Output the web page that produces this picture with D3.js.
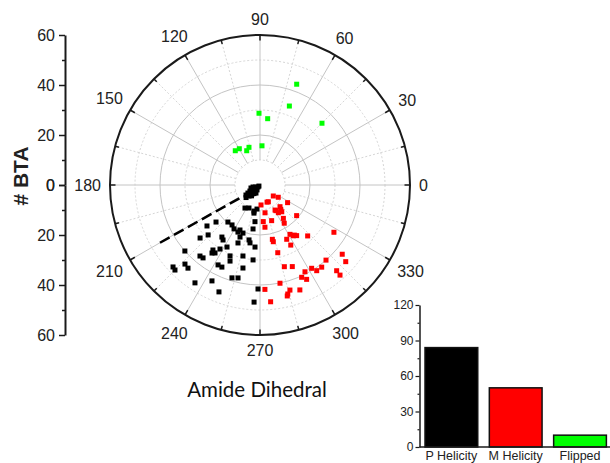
<!DOCTYPE html>
<html>
<head>
<meta charset="utf-8">
<script src="https://cdn.jsdelivr.net/npm/d3@7"></script>
<style>
  body { margin: 0; background: #fff; }
  svg { display: block; }
  text { font-family: "Liberation Sans", Arial, sans-serif; fill: #222; }
</style>
</head>
<body>
<svg id="chart" width="610" height="463"></svg>
<script>
// Each point: [amide dihedral (deg), # BTA]
const pHelicity = [
  [225,1.1],[216.9,2.0],[213.7,2.9],[212,3.8],[211,4.7],[213.7,5.8],[215.5,6.9],[230.2,3.1],
  [228.4,4.8],[239,2.3],[225,0.6],[196,2.9],[225,6.2],[243.4,3.6],[198.4,3.8],
  [220,5.0],[218,3.5],[222,7.5],[232,5.5],[205,2.0],[227,2.5],[235,4.2],[219,6.0],
  [236.9,11.0],[244.4,10.2],[257,10.7],[262.9,9.7],
  [220.1,23.0],[217.7,26.8],[229.1,19.6],[235,19.5],[239.4,20.4],[246,19.7],[250.5,20.4],[261,17.8],
  [223.9,28.8],[221.5,32.0],[233.8,25.8],[236.1,26.5],[249,22.3],[258.7,22.4],[249.2,24.8],[260.2,23.5],
  [242,28.1],[265.4,24.9],[221.3,40.0],[234.1,32.1],[238,30.2],[234.8,33.3],[229.8,37.2],[232,37.0],
  [247.1,30.8],[248.5,32.7],[256.5,29.2],[264.7,30.1],
  [226.5,43.6],[229.1,44.0],[223.3,47.8],[225,48.1],[242.3,36.1],[245.1,36.2],[258.4,33.9],
  [253.2,38.8],[256.7,38.2],[243.4,42.9],[236.4,47.0],[249,45.8],[268.9,41.6],[267.1,46.9],
  [236.5,32.6],[244.9,20.8],[262.2,14.8],[257.9,11.5]
];
const mHelicity = [
  [320.4,6.9],[326.1,8.8],[296.4,7.5],[272.9,8.0],[327.4,13.1],[312.7,11.8],[301,11.7],[303.5,13.3],
  [309.1,13.8],[280.2,11.3],[288.1,15.0],[305,16.3],[320.1,19.1],[275.1,14.7],[276.7,17.0],[302.4,18.1],
  [301.3,23.1],[304.4,24.3],[305.9,25.0],[313.1,27.9],[327.4,35.1],[282.8,22.3],[296.2,24.2],[283.2,23.3],
  [297.1,27.0],[284.7,28.0],[319.9,43.0],[318.2,46.0],[311.3,40.0],[286.6,34.1],[291.6,35.1],[301.8,39.2],
  [303.5,41.1],[306.9,41.1],[297.4,39.1],[311.8,46.0],[311.6,48.2],[294.3,40.5],[296.3,42.1],[281.5,40.1],
  [272.7,41.8],[285.9,43.7],[284.3,45.0],[290.8,44.9],[275.2,46.9],
  [301.9,12.1],[310.4,12.8],[303.3,24.3],[283.8,45.7],[292.4,7.4]
];
const flipped = [
  [70.0,42.9],[69.6,33.7],[90.8,28.7],[83.4,26.7],[44.9,35.0],
  [87.1,15.7],[106.3,15.7],[111.2,14.7],[119.7,16.7],[125.8,16.9]
];
// Dashed guide: two [angle, # BTA] end points
const guideLine = [[210.0,46.2],[213.3,8.8]];

const groupNames = ["P Helicity", "M Helicity", "Flipped"];
const groupCounts = [84, 50, 10];
const groupColors = ["#000000", "#ff0000", "#00ff00"];

const angleLabels = [0,30,60,90,120,150,180,210,240,270,300,330];
const radialTicks = [0,20,40,60];
const radialMinor = [10,30,50];
const countTicks = [0,30,60,90,120];
const countMinor = [15,45,75,105];

const svg = d3.select("#chart");

// ---------- polar plot ----------
const cx = 260, cy = 185, R = 150;
const rScale = d3.scaleLinear().domain([0, 60]).range([0, R]);
const aScale = d3.scaleLinear().domain([0, 360]).range([0, 2 * Math.PI]);
const px = (a, r) => cx + rScale(r) * Math.cos(aScale(a));
const py = (a, r) => cy - rScale(r) * Math.sin(aScale(a));

const polar = svg.append("g");

// grid circles
d3.range(10, 60, 10).forEach(v => {
  const major = v % 20 === 0;
  polar.append("circle")
    .attr("cx", cx).attr("cy", cy).attr("r", rScale(v))
    .attr("fill", "none")
    .attr("stroke", major ? "#c4c4c4" : "#d6d6d6")
    .attr("stroke-width", 1)
    .attr("stroke-dasharray", major ? null : "2,2");
});
// radial grid lines
d3.range(0, 360, 15).forEach(a => {
  const major = a % 30 === 0;
  polar.append("line")
    .attr("x1", px(a, 10)).attr("y1", py(a, 10))
    .attr("x2", px(a, 60)).attr("y2", py(a, 60))
    .attr("stroke", major ? "#c4c4c4" : "#d6d6d6")
    .attr("stroke-width", 1)
    .attr("stroke-dasharray", major ? null : "2,2");
});
// outer ring and inward ticks
polar.append("circle")
  .attr("cx", cx).attr("cy", cy).attr("r", R)
  .attr("fill", "none").attr("stroke", "#1a1a1a").attr("stroke-width", 2);
d3.range(0, 360, 15).forEach(a => {
  const inner = a % 30 === 0 ? 57.8 : 58.4;
  polar.append("line")
    .attr("x1", px(a, 60)).attr("y1", py(a, 60))
    .attr("x2", px(a, inner)).attr("y2", py(a, inner))
    .attr("stroke", "#1a1a1a").attr("stroke-width", 1.5);
});
// angle labels
angleLabels.forEach(a => {
  const t = polar.append("text").text(a)
    .attr("font-size", 16)
    .attr("text-anchor", "middle")
    .attr("dominant-baseline", "central");
  const bb = t.node().getBBox();
  const th = aScale(a);
  const ext = Math.abs(Math.cos(th)) * bb.width / 2 + Math.abs(Math.sin(th)) * bb.height * 0.38;
  const d = R + 9 + ext;
  t.attr("x", cx + d * Math.cos(th)).attr("y", cy - d * Math.sin(th));
});

// dashed guide line
polar.append("line")
  .attr("x1", px(guideLine[0][0], guideLine[0][1])).attr("y1", py(guideLine[0][0], guideLine[0][1]))
  .attr("x2", px(guideLine[1][0], guideLine[1][1])).attr("y2", py(guideLine[1][0], guideLine[1][1]))
  .attr("stroke", "#000").attr("stroke-width", 2.5).attr("stroke-dasharray", "11,5");

// data points
const sq = 5;
[[pHelicity, groupColors[0]], [mHelicity, groupColors[1]], [flipped, groupColors[2]]].forEach(([data, col]) => {
  polar.append("g").selectAll("rect").data(data).join("rect")
    .attr("x", d => px(d[0], d[1]) - sq / 2)
    .attr("y", d => py(d[0], d[1]) - sq / 2)
    .attr("width", sq).attr("height", sq)
    .attr("fill", col);
});

// left radial axis (mirrored above and below the centre)
const axX = 65;
const upScale = d3.scaleLinear().domain([0, 60]).range([cy, cy - R]);
const downScale = d3.scaleLinear().domain([0, 60]).range([cy, cy + R]);
[upScale, downScale].forEach(s => {
  const gMaj = svg.append("g").attr("transform", `translate(${axX},0)`)
    .call(d3.axisLeft(s).tickValues(radialTicks).tickSize(6).tickPadding(4).tickSizeOuter(0));
  gMaj.select(".domain").attr("stroke", "#1a1a1a").attr("stroke-width", 2);
  gMaj.selectAll(".tick line").attr("stroke", "#1a1a1a").attr("stroke-width", 1.5);
  gMaj.selectAll(".tick text").attr("font-size", 16).attr("font-family", "Liberation Sans, Arial, sans-serif").attr("fill", "#222");
  const gMin = svg.append("g").attr("transform", `translate(${axX},0)`)
    .call(d3.axisLeft(s).tickValues(radialMinor).tickSize(3).tickFormat(""));
  gMin.select(".domain").remove();
  gMin.selectAll(".tick line").attr("stroke", "#1a1a1a").attr("stroke-width", 1.5);
});

svg.append("text")
  .attr("transform", "translate(28,176) rotate(-90)")
  .attr("text-anchor", "middle")
  .attr("font-size", 21).attr("font-weight", "bold")
  .text("# BTA");

svg.append("text")
  .attr("x", 257).attr("y", 397)
  .attr("text-anchor", "middle")
  .style("font-family", "Lato, 'Open Sans', sans-serif")
  .style("fill", "#111")
  .attr("font-size", 20.5)
  .text("Amide Dihedral");

// ---------- inset bar chart ----------
const bx0 = 419.5, by0 = 447;
const xBand = d3.scaleBand().domain(groupNames).range([421.8, 609.6]).paddingInner(0.18).paddingOuter(0.05);
const yCount = d3.scaleLinear().domain([0, 120]).range([by0, 305]);
const inset = svg.append("g");

inset.selectAll("rect").data(groupNames).join("rect")
  .attr("x", d => xBand(d))
  .attr("y", (d, i) => yCount(groupCounts[i]))
  .attr("width", xBand.bandwidth())
  .attr("height", (d, i) => by0 - yCount(groupCounts[i]))
  .attr("fill", (d, i) => groupColors[i])
  .attr("stroke", "#111").attr("stroke-width", 1.5);

const yAx = inset.append("g").attr("transform", `translate(${bx0},0)`)
  .call(d3.axisLeft(yCount).tickValues(countTicks).tickSize(4).tickPadding(2).tickSizeOuter(0));
yAx.select(".domain").attr("stroke", "#1a1a1a").attr("stroke-width", 1.5);
yAx.selectAll(".tick line").attr("stroke", "#1a1a1a").attr("stroke-width", 1.2);
yAx.selectAll(".tick text").attr("font-size", 12).attr("font-family", "Liberation Sans, Arial, sans-serif").attr("fill", "#222");
const yMin = inset.append("g").attr("transform", `translate(${bx0},0)`)
  .call(d3.axisLeft(yCount).tickValues(countMinor).tickSize(2).tickFormat(""));
yMin.select(".domain").remove();
yMin.selectAll(".tick line").attr("stroke", "#1a1a1a").attr("stroke-width", 1.2);

inset.append("line")
  .attr("x1", bx0).attr("x2", 610).attr("y1", by0).attr("y2", by0)
  .attr("stroke", "#1a1a1a").attr("stroke-width", 1.5);

const xAx = inset.append("g").attr("transform", `translate(0,${by0})`)
  .call(d3.axisBottom(xBand).tickSize(0).tickPadding(4));
xAx.select(".domain").remove();
xAx.selectAll(".tick text").attr("font-size", 12.5).attr("font-family", "Liberation Sans, Arial, sans-serif").attr("fill", "#222");
</script>
</body>
</html>
